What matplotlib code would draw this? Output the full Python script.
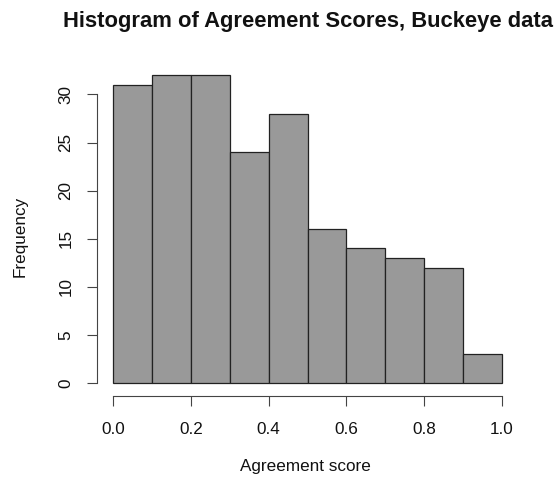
import matplotlib
matplotlib.use("Agg")
import matplotlib.pyplot as plt

bin_edges = [0.0, 0.1, 0.2, 0.3, 0.4, 0.5, 0.6, 0.7, 0.8, 0.9, 1.0]
counts = [31, 32, 32, 24, 28, 16, 14, 13, 12, 3]
x_ticks = [0.0, 0.2, 0.4, 0.6, 0.8, 1.0]
x_tick_labels = ["0.0", "0.2", "0.4", "0.6", "0.8", "1.0"]
y_ticks = [0, 5, 10, 15, 20, 25, 30]
title = "Histogram of Agreement Scores, Buckeye data"
xlabel = "Agreement score"
ylabel = "Frequency"

plt.rcParams['font.family'] = ['Liberation Sans', 'DejaVu Sans']

fig = plt.figure(figsize=(5.57, 4.84), dpi=100)
ax = fig.add_axes([0.1749, 0.1826, 0.9293 - 0.1749, 0.8702 - 0.1826])

lefts = bin_edges[:-1]
widths = [bin_edges[i + 1] - bin_edges[i] for i in range(len(counts))]
ax.bar(lefts, counts, width=widths, align='edge', color='#999999',
       edgecolor='#222222', linewidth=0.9)

ax.set_xlim(-0.04, 1.04)
ax.set_ylim(-1.28, 33.28)
for s in ['top', 'right']:
    ax.spines[s].set_visible(False)
ax.spines['left'].set_bounds(0, 30)
ax.spines['bottom'].set_bounds(0, 1)
for s in ['left', 'bottom']:
    ax.spines[s].set_color('#444444')
    ax.spines[s].set_linewidth(0.8)

ax.set_xticks(x_ticks)
ax.set_xticklabels(x_tick_labels)
ax.set_yticks(y_ticks)
ax.set_yticklabels([str(v) for v in y_ticks], rotation=90, va='center')
ax.tick_params(axis='both', length=7.2, width=0.8, color='#444444',
               labelsize=12.3, labelcolor='#111111')
ax.tick_params(axis='x', pad=12)
ax.tick_params(axis='y', pad=10)

fig.text(308 / 557, 1 - 21 / 484, title, ha='center', va='center',
         fontsize=15.8, fontweight='bold', color='#111111')
fig.text(0.5479, 1 - 467 / 484, xlabel, ha='center', va='center',
         fontsize=12.3, color='#111111')
fig.text(20 / 557, 1 - 236 / 484, ylabel, ha='center', va='center',
         rotation=90, fontsize=12.3, color='#111111')

fig.savefig('out.png', dpi=100)
